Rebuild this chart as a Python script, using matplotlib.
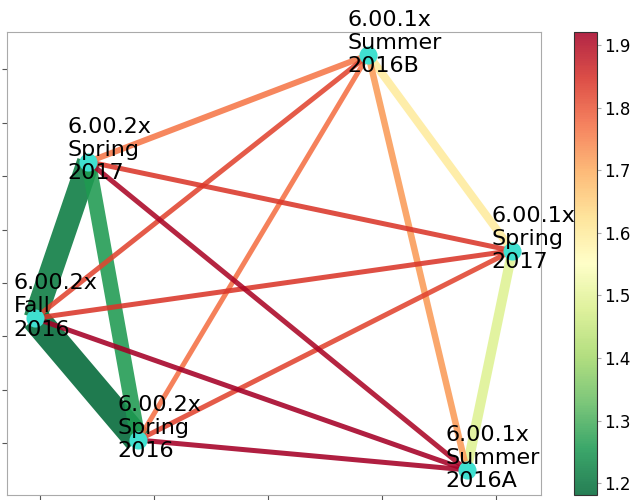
import matplotlib
matplotlib.use("Agg")
import matplotlib.pyplot as plt
import numpy as np
from matplotlib.collections import LineCollection
from matplotlib import cm, colors

# Nodes
node_names = ["6.00.2x\nFall\n2016", "6.00.2x\nSpring\n2017", "6.00.2x\nSpring\n2016",
              "6.00.1x\nSummer\n2016B", "6.00.1x\nSpring\n2017", "6.00.1x\nSummer\n2016A"]
node_x = [-1.022, -0.788, -0.569, 0.440, 1.071, 0.871]
node_y = [-0.132, 0.454, -0.588, 0.854, 0.121, -0.700]

# Edges (source index, target index), value (colour) and strength (width)
edge_src = [0, 0, 1, 4, 3, 3, 1, 2, 2, 0, 0, 1, 1, 0, 2]
edge_dst = [2, 1, 2, 5, 4, 5, 3, 3, 4, 3, 4, 4, 5, 5, 5]
edge_val = [1.181, 1.21, 1.26, 1.49, 1.60, 1.72, 1.76, 1.77, 1.82, 1.82, 1.84, 1.84, 1.91, 1.92, 1.921]
edge_strength = [28, 23, 15, 10, 8, 6.5, 6, 5, 5, 5, 5, 5, 5, 5, 5]

vmin, vmax = 1.181, 1.921

fig = plt.figure(figsize=(6.32, 5.0), dpi=100)
ax = fig.add_axes([7/632, 5/500, 534/632, 463/500])
cax = fig.add_axes([574/632, 5/500, 23/632, 463/500])

cmap = plt.get_cmap("RdYlGn_r")
norm = colors.Normalize(vmin=vmin, vmax=vmax)

segs = [[(node_x[s], node_y[s]), (node_x[d], node_y[d])] for s, d in zip(edge_src, edge_dst)]
lc = LineCollection(segs, cmap=cmap, norm=norm, alpha=0.88,
                    linewidths=[w * 0.72 for w in edge_strength], zorder=1)
lc.set_array(np.array(edge_val))
ax.add_collection(lc)

ax.scatter(node_x, node_y, s=170, c="turquoise", zorder=2, linewidths=0)

for name, x, y in zip(node_names, node_x, node_y):
    ax.annotate(name, (x, y), xytext=(-15.3, 8.5), textcoords="offset points",
                ha="left", va="center", fontsize=16, zorder=3, annotation_clip=False)

ax.set_xlim(-1.145, 1.197)
ax.set_ylim(-0.794, 0.940)
ax.set_xticks([-1, -0.5, 0, 0.5, 1])
ax.set_yticks([-0.6, -0.4, -0.2, 0, 0.2, 0.4, 0.6, 0.8])
ax.set_xticklabels([])
ax.set_yticklabels([])
ax.tick_params(length=3.5, width=0.8, color="#555555")
for sp in ax.spines.values():
    sp.set_color("#aaaaaa")

sm = cm.ScalarMappable(norm=norm, cmap=cmap)
cb = fig.colorbar(sm, cax=cax, alpha=0.85)
cb.set_ticks([1.2, 1.3, 1.4, 1.5, 1.6, 1.7, 1.8, 1.9])
cb.ax.tick_params(labelsize=12, length=3, pad=2, color="#aaaaaa")
cb.outline.set_edgecolor("#333333")

fig.savefig("out.png", dpi=100)
